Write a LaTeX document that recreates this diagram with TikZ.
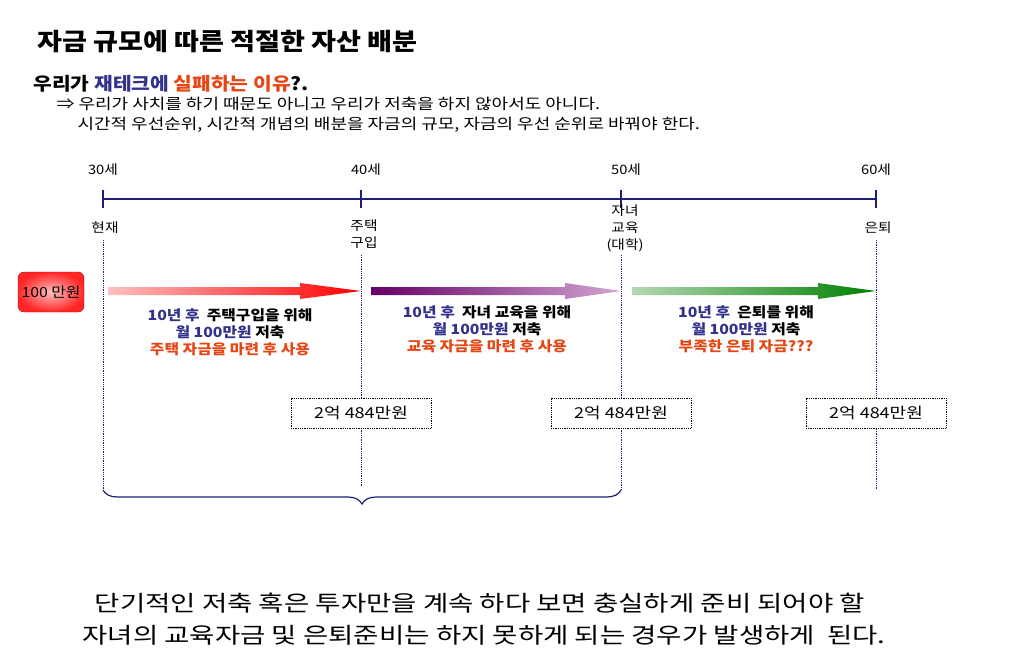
\documentclass[tikz,border=0pt]{standalone}
\usepackage{fontspec}
\setmainfont{Noto Sans CJK KR}
\newfontfamily\wa[FakeStretch=1.13]{Noto Sans CJK KR}
\newfontfamily\wb[FakeStretch=1.2]{Noto Sans CJK KR}
\newfontfamily\wc[FakeStretch=1.25]{Noto Sans CJK KR}
\usetikzlibrary{decorations.pathreplacing}
\definecolor{navy}{RGB}{30,30,120}
\definecolor{ored}{RGB}{230,70,20}
\definecolor{tblue}{RGB}{50,50,140}
\begin{document}
\begin{tikzpicture}[x=1pt,y=-1pt,
  lab/.style={font=\wa\fontsize{13}{15}\selectfont,align=center},
  txt/.style={font=\wa\bfseries\fontsize{14}{17}\selectfont,align=center},
  vdot/.style={navy,densely dotted,line width=0.8pt},
  dbox/.style={draw,densely dotted,line width=0.8pt,minimum width=140,minimum height=30,font=\wb\fontsize{15}{16}\selectfont}]
\useasboundingbox (0,0) rectangle (1016,663);
\node[anchor=west,font=\wa\bfseries\fontsize{24}{26}\selectfont] (title) at (34,42) {자금 규모에 따른 적절한 자산 배분};
\node[anchor=west,font=\wa\bfseries\fontsize{18}{20}\selectfont] (sub) at (30,84) {우리가 \textcolor{tblue}{재테크에} \textcolor{ored}{실패하는 이유}?.};
\node[anchor=west,font=\wb\fontsize{15}{16}\selectfont] (l1) at (53,104) {⇒ 우리가 사치를 하기 때문도 아니고 우리가 저축을 하지 않아서도 아니다.};
\node[anchor=west,font=\wb\fontsize{15}{16}\selectfont] (l2) at (74,125) {시간적 우선순위, 시간적 개념의 배분을 자금의 규모, 자금의 우선 순위로 바꿔야 한다.};
% timeline
\coordinate (t30) at (103,199); \coordinate (t40) at (361,199);
\coordinate (t50) at (621,199); \coordinate (t60) at (876,199);
\draw[navy,line width=1.6pt] (t30) -- (t60);
\foreach \p in {t30,t40,t50,t60} \draw[navy,line width=1.6pt] ([yshift=9]\p) -- ([yshift=-9]\p);
\node[lab] (a30) at (103,170) {30세};
\node[lab] (a40) at (366,170) {40세};
\node[lab] (a50) at (626,170) {50세};
\node[lab] (a60) at (876,170) {60세};
\node[lab] (b30) at (105,228) {현재};
\node[lab,font=\wa\fontsize{13}{17}\selectfont] (b40) at (364,234) {주택\\구입};
\node[lab,font=\wa\fontsize{13}{17}\selectfont] (b50) at (625,228) {자녀\\교육\\(대학)};
\node[lab] (b60) at (878,228) {은퇴};
\draw[vdot] (103,240) -- (103,490);
\draw[vdot] (361,255) -- (361,487);
\draw[vdot] (621,255) -- (621,490);
\draw[vdot] (876,240) -- (876,490);
% money box
\node[draw=red!70!black,rounded corners=6,minimum width=66,minimum height=40,inner color=red!25,outer color=red!85,font=\wa\fontsize{14}{15}\selectfont] (m) at (51,292) {100 만원};
% arrows
\shade[left color=red!25,right color=red] (108,287) -- (300,287) -- (300,283) -- (361,291) -- (300,299) -- (300,295) -- (108,295) -- cycle;
\shade[left color=violet!80!black,right color=violet!35] (371,287) -- (565,287) -- (565,283) -- (621,291) -- (565,299) -- (565,295) -- (371,295) -- cycle;
\shade[left color=green!50!black!30,right color=green!50!black] (632,287) -- (818,287) -- (818,283) -- (876,291) -- (818,299) -- (818,295) -- (632,295) -- cycle;
\node[txt] (c1) at (230,332) {\textcolor{tblue}{10년 후}\ \ 주택구입을 위해\\\textcolor{tblue}{월 100만원} 저축\\\textcolor{ored}{주택 자금을 마련 후 사용}};
\node[txt] (c2) at (487,329) {\textcolor{tblue}{10년 후}\ \ 자녀 교육을 위해\\\textcolor{tblue}{월 100만원} 저축\\\textcolor{ored}{교육 자금을 마련 후 사용}};
\node[txt] (c3) at (746,329) {\textcolor{tblue}{10년 후}\ \ 은퇴를 위해\\\textcolor{tblue}{월 100만원} 저축\\\textcolor{ored}{부족한 은퇴 자금???}};
\node[dbox,fill=white] (d1) at (361,413) {2억 484만원};
\node[dbox,fill=white] (d2) at (621,413) {2억 484만원};
\node[dbox,fill=white] (d3) at (876,413) {2억 484만원};
\coordinate (br1) at (103,490); \coordinate (br2) at (621,490);
\draw[navy,line width=1.2pt,decorate,decoration={brace,mirror,amplitude=14}] (br1) -- (br2);
\node[font=\wc\fontsize{22}{32}\selectfont,align=left] (bot) at (484,619) {\ \ 단기적인 저축 혹은 투자만을 계속 하다 보면 충실하게 준비 되어야 할\\자녀의 교육자금 및 은퇴준비는 하지 못하게 되는 경우가 발생하게\ \ 된다.};
\end{tikzpicture}
\end{document}
